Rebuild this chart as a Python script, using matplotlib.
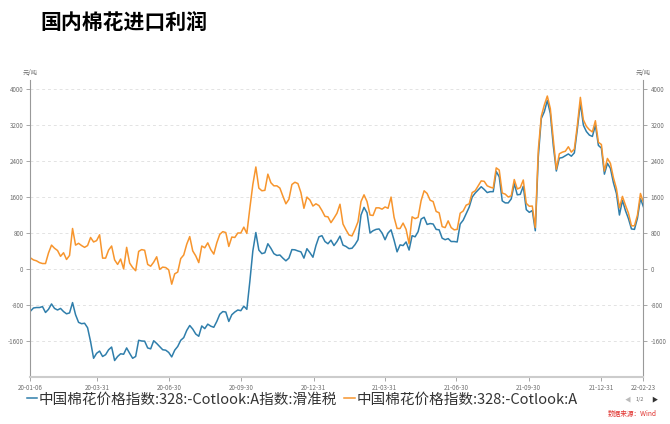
import pandas as pd
import matplotlib.pyplot as plt
import matplotlib.dates as mdates

plt.rcParams['font.family'] = ['Noto Sans CJK SC', 'DejaVu Sans']

# 数据 (从图中读取, 2020-01-06 ~ 2022-02-23)
start_date = '2020-01-06'
end_date = '2022-02-23'

profit_slide = [
    -940, -870, -860, -860, -840, -970, -900, -780, -880, -915,
    -880, -950, -1000, -980, -750, -1020, -1190, -1220, -1210, -1310,
    -1620, -1990, -1880, -1830, -1950, -1910, -1800, -1740, -2040, -1950,
    -1890, -1900, -1760, -1880, -1990, -1950, -1590, -1605, -1610, -1760,
    -1780, -1600, -1660, -1730, -1800, -1810, -1860, -1960, -1810, -1727,
    -1590, -1530, -1370, -1260, -1340, -1450, -1500, -1270, -1330, -1230,
    -1275, -1300, -1170, -1010, -950, -960, -1170, -1020, -960, -915,
    -930, -830, -900, -280, 400, 810, 420, 340, 360, 560,
    460, 340, 300, 310, 240, 180, 240, 430, 425, 400,
    380, 240, 450, 360, 260, 520, 715, 740, 610, 560,
    640, 520, 610, 730, 530, 500, 452, 460, 540, 650,
    1200, 1370, 1250, 800, 850, 880, 890, 800, 650, 800,
    870, 640, 380, 535, 520, 600, 420, 740, 715, 830,
    1110, 1150, 990, 1010, 1000, 880, 870, 685, 650, 675,
    610, 610, 600, 1000, 1085, 1230, 1375, 1600, 1690, 1760,
    1830, 1770, 1700, 1720, 1720, 2170, 2050, 1515, 1470, 1470,
    1560, 1900, 1650, 1660, 1840, 1320, 1260, 1300, 850, 2500,
    3350, 3500, 3750, 3460, 2740, 2180, 2467, 2480, 2520, 2560,
    2510, 2585, 3120, 3700, 3200, 3060, 2980, 2950, 3200, 2750,
    2690, 2110, 2350, 2240, 1920, 1680, 1200, 1527, 1300, 1120,
    890, 880, 1130, 1570, 1380,
]

profit_1pct = [
    245, 200, 180, 140, 120, 120, 356, 530, 460, 410,
    280, 360, 210, 300, 900, 530, 570, 520, 480, 520,
    700, 600, 630, 760, 240, 240, 420, 510, 200, 100,
    220, 0, 480, 130, 30, -40, 390, 430, 415, 100,
    60, 150, 270, -10, 40, 30, -20, -340, -110, -70,
    230, 310, 550, 720, 400, 290, 140, 510, 470, 580,
    430, 330, 580, 770, 830, 810, 500, 710, 700, 800,
    800, 930, 790, 1350, 1880, 2270, 1800, 1740, 1750, 2110,
    1920, 1850, 1850, 1800, 1620, 1450, 1550, 1880, 1930, 1900,
    1700, 1350, 1600, 1534, 1400, 1450, 1410, 1300, 1170, 1160,
    1030, 1130, 1240, 1440, 1000, 870, 756, 734, 880, 1050,
    1500, 1650, 1500, 1200, 1190, 1360, 1360, 1330, 1380, 1350,
    1600, 1150, 900, 900, 1020, 880, 560, 1160, 1120, 1150,
    1520, 1740, 1680, 1530, 1500, 1280, 1250, 941, 920, 1070,
    920, 870, 880, 1240, 1290, 1420, 1450, 1700, 1740, 1850,
    1960, 1950, 1850, 1820, 1800, 2250, 2200, 1690, 1665, 1600,
    1630, 1990, 1780, 1810, 1980, 1460, 1395, 1400, 920, 2650,
    3400, 3650, 3850, 3570, 2880, 2220, 2564, 2600, 2620, 2720,
    2600, 2670, 3200, 3820, 3320, 3175, 3100, 3050, 3300, 2820,
    2770, 2180, 2460, 2350, 2030, 1790, 1360, 1615, 1420, 1240,
    960, 960, 1200, 1680, 1480,
]

dates = pd.date_range(start_date, end_date, periods=len(profit_slide))

x_tick_dates = ['2020-01-06', '2020-03-31', '2020-06-30', '2020-09-30', '2020-12-31',
                '2021-03-31', '2021-06-30', '2021-09-30', '2021-12-31', '2022-02-23']
y_ticks = [-1600, -800, 0, 800, 1600, 2400, 3200, 4000]

label_slide = '中国棉花价格指数:328:-Cotlook:A指数:滑准税'
label_1pct = '中国棉花价格指数:328:-Cotlook:A'

blue = '#2f7eab'
orange = '#f7952d'
grey = '#6e6e6e'

fig = plt.figure(figsize=(6.7, 4.24), dpi=100)
ax = fig.add_axes([0.0455, 0.1116, 0.9149, 0.699])

ax.plot(dates, profit_slide, color=blue, lw=1.1, label=label_slide)
ax.plot(dates, profit_1pct, color=orange, lw=1.1, label=label_1pct)

ax.set_xlim(pd.Timestamp(start_date), pd.Timestamp(end_date))
ax.set_ylim(-2400, 4200)
ax.set_yticks(y_ticks)
ax.set_yticklabels([str(v) for v in y_ticks])
ax.set_xticks(pd.to_datetime(x_tick_dates))
ax.xaxis.set_major_formatter(mdates.DateFormatter('%y-%m-%d'))

ax.grid(axis='y', color='#e3e3e3', linestyle=(0, (3, 3)), lw=0.7)
ax.set_axisbelow(True)

ax.spines['top'].set_visible(False)
ax.spines['left'].set_color('#999999')
ax.spines['right'].set_color('#999999')
ax.spines['bottom'].set_color('#cccccc')
ax.spines['bottom'].set_linewidth(1.5)

ax.tick_params(axis='y', which='both', labelsize=4.5, colors='#999999', labelcolor=grey,
               length=3, width=0.6, pad=2, right=True, labelright=True)
ax.tick_params(axis='x', labelsize=4.5, colors='#999999', labelcolor=grey,
               length=3, width=0.6, pad=2)

# 单位
fig.text(0.0455, 0.828, '元/吨', fontsize=4.5, color=grey, ha='center', va='center')
fig.text(0.9604, 0.828, '元/吨', fontsize=4.5, color=grey, ha='center', va='center')

# 标题
fig.text(0.06, 0.947, '国内棉花进口利润', fontsize=15, fontweight='bold', color='black',
         ha='left', va='center')

# 图例
fig.legend(loc='center left', bbox_to_anchor=(0.04, 0.058), ncol=2, frameon=False,
           fontsize=10.5, handlelength=0.7, handletextpad=0.12, columnspacing=0.5,
           labelcolor='#333333', borderaxespad=0, borderpad=0)
fig.text(0.937, 0.058, '◀', fontsize=4.5, color='#bbbbbb', ha='center', va='center')
fig.text(0.955, 0.058, '1/2', fontsize=4, color=grey, ha='center', va='center')
fig.text(0.977, 0.058, '▶', fontsize=4.5, color='#333333', ha='center', va='center')

# 数据来源
fig.text(0.98, 0.024, '数据来源：Wind', fontsize=4.8, color='#e0302c', ha='right', va='center')

plt.savefig('out.png', dpi=100)
